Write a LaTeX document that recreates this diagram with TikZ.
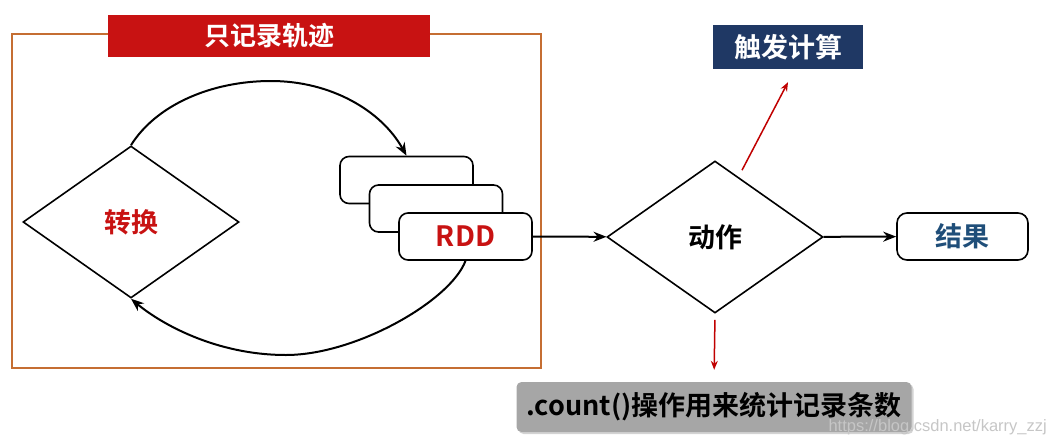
\documentclass[tikz,border=0pt]{standalone}
\usepackage{fontspec}
\setmainfont{Noto Sans CJK SC}[BoldFont={Noto Sans CJK SC Bold}]
\newfontfamily\markfont{Liberation Sans}
\usetikzlibrary{shapes.geometric, arrows.meta, shadows}
\definecolor{trackred}{RGB}{200,18,18}
\definecolor{frameorange}{RGB}{197,110,50}
\definecolor{navy}{RGB}{31,56,100}
\definecolor{resblue}{RGB}{31,78,121}
\definecolor{notegray}{RGB}{166,166,166}
\definecolor{arrowred}{RGB}{192,0,0}
\tikzstyle{trackframe} = [rectangle, minimum width=529pt, minimum height=334pt, draw=frameorange, line width=2pt]
\tikzstyle{banner} = [rectangle, minimum width=322pt, minimum height=42pt, text centered, fill=trackred, text=white, font=\fontsize{26}{30}\selectfont\bfseries]
\tikzstyle{decision} = [diamond, aspect=1.42, minimum width=216pt, minimum height=152pt, inner sep=0pt, text centered, draw=black, line width=1.6pt, font=\fontsize{27}{30}\selectfont\bfseries]
\tikzstyle{rdd} = [rectangle, rounded corners=9pt, minimum width=133pt, minimum height=47pt, text centered, draw=black, fill=white, line width=1.6pt, font=\fontsize{28}{30}\selectfont\bfseries]
\tikzstyle{result} = [rectangle, rounded corners=10pt, minimum width=131pt, minimum height=47pt, text centered, draw=black, line width=1.6pt, text=resblue, font=\fontsize{27}{30}\selectfont\bfseries]
\tikzstyle{trigger} = [rectangle, minimum width=150pt, minimum height=44pt, text centered, fill=navy, text=white, font=\fontsize{27}{30}\selectfont\bfseries]
\tikzstyle{note} = [rectangle, rounded corners=5pt, minimum width=395pt, minimum height=50pt, text centered, fill=notegray, drop shadow={shadow xshift=2pt, shadow yshift=-2pt, opacity=0.35}, font=\fontsize{27}{30}\selectfont\bfseries]
\tikzstyle{watermark} = [text=gray!45, inner sep=0pt, font=\markfont\fontsize{16.5}{18}\selectfont]
\tikzstyle{arrow} = [line width=2pt,->,>={Stealth[length=13pt,width=10pt]}]
\tikzstyle{redarrow} = [line width=1.5pt,->,>={Stealth[length=9pt,width=7pt]}, draw=arrowred]

\begin{document}
\begin{tikzpicture}[x=1pt,y=-1pt]
\useasboundingbox (0,0) rectangle (1051,444);
%%%%% ADDING MAIN BLOCKS
\node (frame) [trackframe] at (276.5,201) {};
\node (banner) [banner] at (269,36) {只记录轨迹};
\node (conv) [decision, text=trackred] at (131,222) {转换};
% three stacked rdd boxes, the front one is labelled
\node (rdda) [rdd] at (406.5,180) {};
\node (rddb) [rdd] at (436,208.5) {};
\node (rddc) [rdd, text=trackred] at (465.5,236.5) {RDD};
\node (act) [decision] at (715,237) {动作};
\node (res) [result] at (962.5,236.5) {结果};
\node (trig) [trigger] at (788,47) {触发计算};
\node (cnt) [note] at (714,407) {.count()操作用来统计记录条数};
\node (mark) [watermark, anchor=east] at (1047,427) {https://blog.csdn.net/karry\_zzj};
\coordinate (toppeak) at (271,81);
\coordinate (botpeak) at (286,355);
\coordinate (actup) at ([shift={(27,10)}]act.north);

%%%%% ADDING ARROWS
\draw [arrow] (conv.north) .. controls +(25,-40) and +(-60,0) .. (toppeak) .. controls +(60,0) and +(-25,-45) .. (rdda.north);
\draw [arrow] (rddc.south) .. controls +(-15,40) and +(70,0) .. (botpeak) .. controls +(-70,0) and +(30,25) .. (conv.south);
\draw [arrow] (rddc) -- (act);
\draw [arrow] (act) -- (res);
\draw [redarrow] (actup) -- ([yshift=-13pt]trig.south);
\draw [redarrow, shorten <=6pt, shorten >=12pt] (act.south) -- (cnt.north);
\end{tikzpicture}
\end{document}
